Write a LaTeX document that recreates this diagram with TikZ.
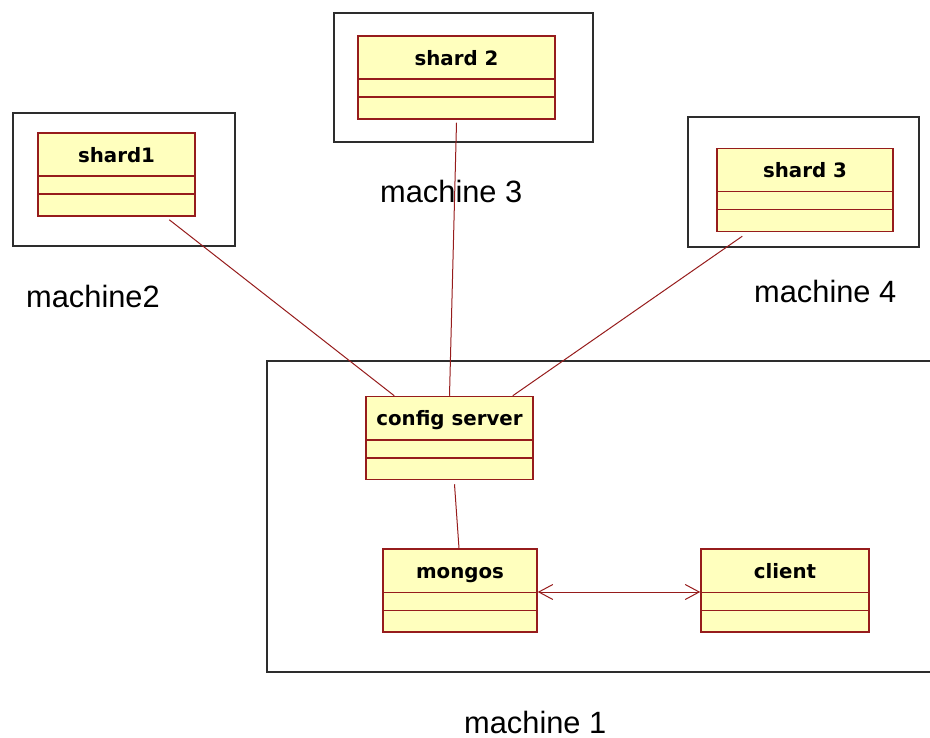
\documentclass[tikz,border=0pt]{standalone}
\usepackage{fontspec}
\usepackage{tikz}
\usepackage{xcolor}
\usetikzlibrary{arrows}
\usetikzlibrary{arrows.meta}
\usetikzlibrary{calc}
\usetikzlibrary{positioning}
\setmainfont{Liberation Sans}
\newfontfamily\titlefont{DejaVu Sans}
\definecolor{classfill}{RGB}{255,255,190}
\definecolor{classedge}{RGB}{150,28,28}
\definecolor{boxedge}{RGB}{45,45,45}

\begin{document}
\begin{tikzpicture}[x=1pt, y=-1pt,
  cls/.style={draw=classedge, fill=classfill, line width=1.5pt, minimum height=83pt, inner sep=0pt},
  title/.style={anchor=base, font=\titlefont\bfseries\fontsize{19.8}{22}\selectfont},
  machine/.style={draw=boxedge, line width=1.6pt},
  mlabel/.style={anchor=base west, inner sep=0pt, font=\fontsize{30.8}{34}\selectfont},
  link/.style={draw=classedge, line width=1pt}]
  \useasboundingbox (0,0) rectangle (930,738);

  % machines
  \draw[machine] (13,113) rectangle (235,246);
  \draw[machine] (334,13) rectangle (593,142);
  \draw[machine] (688,117) rectangle (919,247);
  \draw[machine] (935,361) -- (267,361) -- (267,672) -- (935,672);

  % classes
  \node[cls, minimum width=157pt] (s1)  at (116.5,174.5) {};
  \node[cls, minimum width=197pt] (s2)  at (456.5,77.5)  {};
  \node[cls, minimum width=176pt] (s3)  at (805,190)     {};
  \node[cls, minimum width=167pt] (cfg) at (449.5,438)   {};
  \node[cls, minimum width=154pt] (mg)  at (460,590.5)   {};
  \node[cls, minimum width=168pt] (cl)  at (785,590.5)   {};

  \foreach \n/\t in {s1/shard1, s2/shard 2, s3/shard 3, cfg/config server, mg/mongos, cl/client} {
    \node[title] (\n t) at ([yshift=-30pt]\n.north) {\t};
    \draw[classedge, line width=1.5pt] ([yshift=-44pt]\n.north west) -- ([yshift=-44pt]\n.north east);
    \draw[classedge, line width=1.5pt] ([yshift=-62pt]\n.north west) -- ([yshift=-62pt]\n.north east);
  }

  % labels
  \node[mlabel] (m2) at (26,308)  {machine2};
  \node[mlabel] (m3) at (380,203) {machine 3};
  \node[mlabel] (m4) at (754,303) {machine 4};
  \node[mlabel] (m1) at (464,733) {machine 1};

  % links
  \draw[link] ([shift={(132,3)}]s1.south west) -- ([xshift=29pt]cfg.north west);
  \draw[link] ([yshift=-3pt]s2.south) -- (cfg.north);
  \draw[link] ([shift={(26,4)}]s3.south west) -- ([xshift=-21pt]cfg.north east);
  \draw[link] ([shift={(5,4)}]cfg.south) -- ([xshift=-1pt]mg.north);
  \draw[link, {Straight Barb[length=14pt,width=15pt]}-{Straight Barb[length=14pt,width=15pt]}]
    ([yshift=-1.5pt]mg.east) -- ([yshift=-1.5pt]cl.west);
\end{tikzpicture}
\end{document}
